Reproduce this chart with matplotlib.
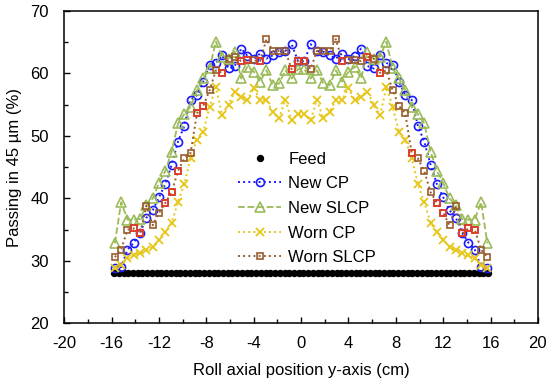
import numpy as np
import matplotlib.pyplot as plt
from matplotlib.ticker import MultipleLocator

# ------------------ DATA ------------------
# 60 positions across the 32 cm roll (bin centres), feed measured on a finer grid
pos = np.linspace(-15.733, 15.733, 60)
feed_pos = np.linspace(-15.8, 15.8, 80)
feed_val = 28.0

new_cp = [28.9, 29.0, 31.8, 32.9, 34.5, 36.9, 38.1, 40.2, 42.3, 45.4,
          49.1, 51.6, 55.8, 56.5, 58.7, 61.3, 61.7, 62.9, 60.8, 61.2,
          64.0, 62.8, 62.3, 63.2, 62.4, 62.9, 63.5, 63.6, 64.7, 62.0,
          62.0, 64.7, 63.6, 63.5, 62.9, 62.4, 63.2, 62.3, 62.8, 64.0,
          61.2, 60.8, 62.9, 61.7, 61.3, 58.7, 56.5, 55.8, 51.6, 49.1,
          45.4, 42.3, 40.2, 38.1, 36.9, 34.5, 32.9, 31.8, 29.0, 28.9]

new_slcp = [32.8, 39.4, 36.6, 36.6, 36.7, 38.9, 40.0, 42.5, 44.4, 47.5,
            52.0, 53.5, 54.7, 57.3, 59.2, 60.8, 65.1, 62.7, 62.4, 63.5,
            59.2, 61.1, 60.3, 58.7, 60.5, 58.1, 58.4, 60.5, 59.2, 60.7,
            60.7, 59.2, 60.5, 58.4, 58.1, 60.5, 58.7, 60.3, 61.1, 59.2,
            63.5, 62.4, 62.7, 65.1, 60.8, 59.2, 57.3, 54.7, 53.5, 52.0,
            47.5, 44.4, 42.5, 40.0, 38.9, 36.7, 36.6, 36.6, 39.4, 32.8]

worn_cp = [28.9, 29.3, 30.4, 30.9, 31.3, 31.7, 32.2, 33.4, 34.6, 36.1,
           39.4, 42.3, 46.5, 49.4, 50.6, 54.7, 57.8, 53.3, 55.0, 57.1,
           56.3, 55.7, 57.7, 55.8, 55.8, 53.8, 52.8, 55.8, 52.5, 53.5,
           53.5, 52.5, 55.8, 52.8, 53.8, 55.8, 55.8, 57.7, 55.7, 56.3,
           57.1, 55.0, 53.3, 57.8, 54.7, 50.6, 49.4, 46.5, 42.3, 39.4,
           36.1, 34.6, 33.4, 32.2, 31.7, 31.3, 30.9, 30.4, 29.3, 28.9]

worn_slcp = [30.6, 31.8, 35.0, 35.2, 34.4, 38.8, 35.7, 37.7, 39.3, 41.0,
             44.4, 46.4, 47.3, 53.6, 54.8, 57.3, 60.5, 60.1, 62.4, 62.7,
             62.0, 62.1, 62.1, 62.0, 65.5, 63.6, 63.6, 63.6, 60.7, 62.0,
             62.0, 60.7, 63.6, 63.6, 63.6, 65.5, 62.0, 62.1, 62.1, 62.0,
             62.7, 62.4, 60.1, 60.5, 57.3, 54.8, 53.6, 47.3, 46.4, 44.4,
             41.0, 39.3, 37.7, 35.7, 38.8, 34.4, 35.2, 35.0, 31.8, 30.6]

# points of the worn SLCP series whose markers show red in the source
red_pts = [3, 4, 8, 9, 10, 13, 14, 17, 20, 21, 23, 28, 29,
           30, 36, 40, 42, 47, 51, 52, 55, 56, 57]
# ------------------------------------------

plt.rcParams['font.family'] = ['Liberation Sans', 'DejaVu Sans']
plt.rcParams['font.size'] = 12
plt.rcParams['axes.unicode_minus'] = False

fig = plt.figure(figsize=(5.5, 3.86), dpi=100)
ax = fig.add_axes([0.117, 0.1624, 0.861, 0.809])

ax.plot(feed_pos, [feed_val] * len(feed_pos), 'o', color='black', ms=4.3,
        ls='none', label='Feed')
ax.plot(pos, new_cp, ls=':', lw=1.4, color='#1a1aff', marker='o', ms=5.8,
        mfc='none', mec='#1a1aff', mew=1.2, label='New CP')
ax.plot(pos, new_slcp, ls='--', lw=1.3, color='#9bbb59', marker='^', ms=6.5,
        mfc='none', mec='#9bbb59', mew=1.2, label='New SLCP')
ax.plot(pos, worn_cp, ls=':', lw=1.4, color='#e6c619', marker='x', ms=5.5,
        mec='#e6c619', mew=1.3, label='Worn CP')
ax.plot(pos, worn_slcp, ls=':', lw=1.4, color='#995c2e', marker='s', ms=4.8,
        mfc='none', mec='#995c2e', mew=1.2, label='Worn SLCP')
ax.plot(pos[red_pts], np.array(worn_slcp)[red_pts], ls='none', marker='s',
        ms=4.8, mfc='none', mec='#e53a2a', mew=1.2)

ax.set_xlim(-20, 20)
ax.set_ylim(20, 70)
ax.xaxis.set_major_locator(MultipleLocator(4))
ax.xaxis.set_minor_locator(MultipleLocator(2))
ax.yaxis.set_major_locator(MultipleLocator(10))
ax.yaxis.set_minor_locator(MultipleLocator(5))
ax.tick_params(which='both', direction='in', top=False, right=False)
ax.tick_params(which='major', length=4, width=1, labelsize=12)
ax.tick_params(axis='y', which='major', pad=11)
ax.tick_params(axis='x', which='major', pad=9)
ax.tick_params(which='minor', length=3, width=1)
for s in ax.spines.values():
    s.set_linewidth(1.1)

ax.set_xlabel('Roll axial position y-axis (cm)', fontsize=12, labelpad=9)
ax.set_ylabel('Passing in 45 µm (%)', fontsize=12, labelpad=6)

ax.legend(loc='upper left', bbox_to_anchor=(0.367, 0.55), frameon=False,
          fontsize=12, handlelength=2.6, handletextpad=0.4,
          labelspacing=0.58, borderpad=0, borderaxespad=0)

plt.savefig('out.png', dpi=100)
